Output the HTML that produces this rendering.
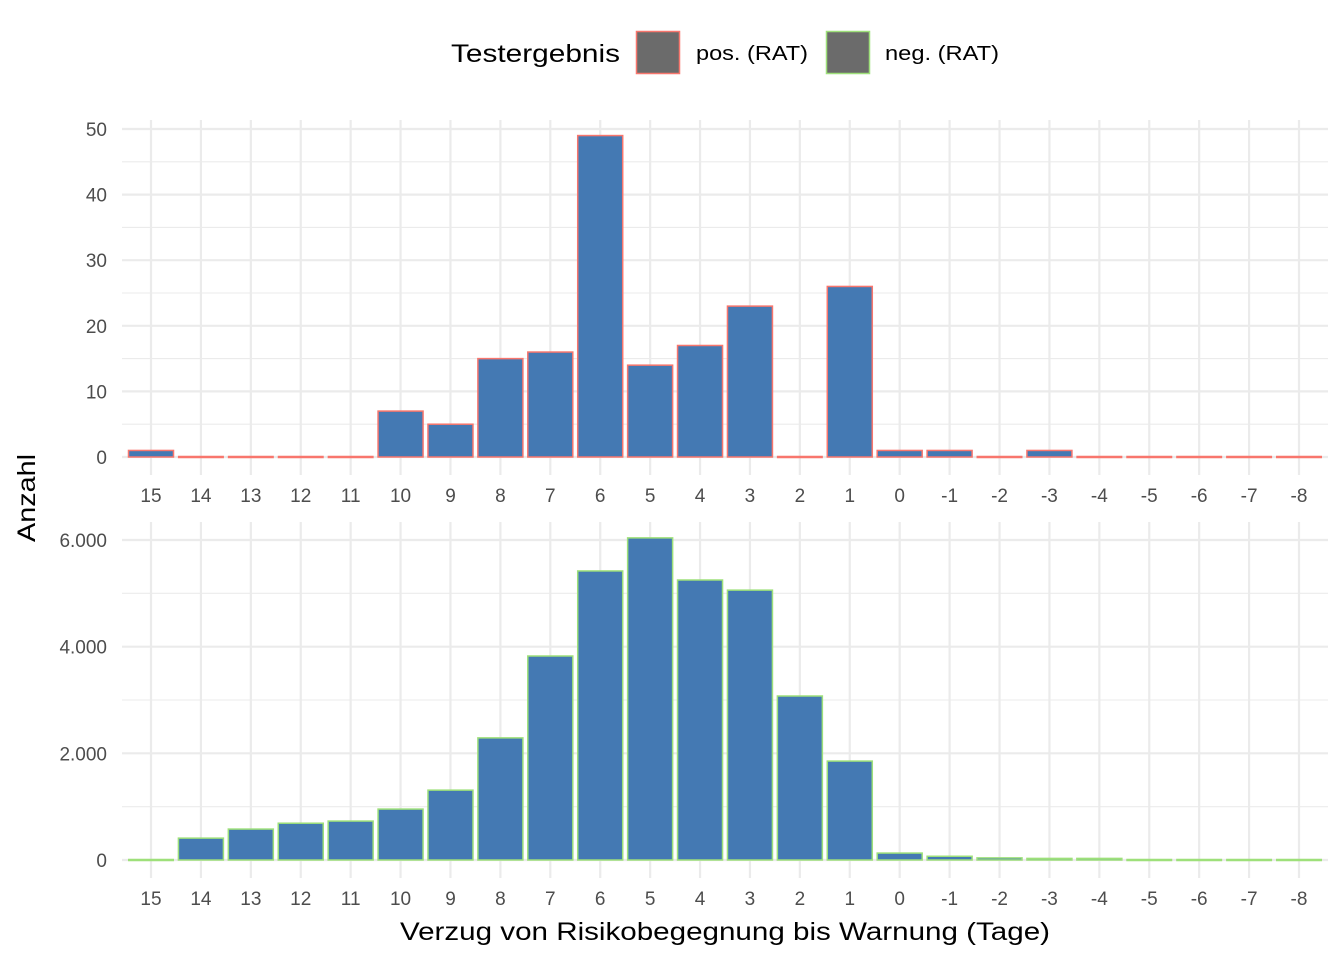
<!DOCTYPE html>
<html><head><meta charset="utf-8"><style>
body{margin:0;background:#fff}
svg{display:block;font-family:"Liberation Sans",Arial,sans-serif}
</style></head><body>
<svg id="chart" width="1344" height="960">
<g>
<text x="451" y="62" font-size="25" fill="#000" textLength="169" lengthAdjust="spacingAndGlyphs">Testergebnis</text>
<rect x="636.5" y="31.5" width="43" height="42" fill="#6b6b6b" stroke="#f8766d" stroke-width="1.5"/>
<text x="696" y="60" font-size="20" textLength="112" lengthAdjust="spacingAndGlyphs">pos. (RAT)</text>
<rect x="826.5" y="31.5" width="43" height="42" fill="#6b6b6b" stroke="#9ee07a" stroke-width="1.5"/>
<text x="885" y="60" font-size="20" textLength="114" lengthAdjust="spacingAndGlyphs">neg. (RAT)</text>
</g>
<text transform="translate(35,498) rotate(-90)" text-anchor="middle" font-size="25" textLength="88" lengthAdjust="spacingAndGlyphs">Anzahl</text>
<text x="400" y="940" font-size="25" textLength="650" lengthAdjust="spacingAndGlyphs">Verzug von Risikobegegnung bis Warnung (Tage)</text>
</svg>
<script>
const categories=["15","14","13","12","11","10","9","8","7","6","5","4","3","2","1","0","-1","-2","-3","-4","-5","-6","-7","-8"];
const posValues=[1,0,0,0,0,7,5,15,16,49,14,17,23,0,26,1,1,0,1,0,0,0,0,0];
const negValues=[10,410,580,690,730,955,1310,2290,3825,5420,6040,5250,5060,3075,1855,130,70,40,30,30,20,15,10,10];
const posTicks=[0,10,20,30,40,50];
const posTickLabels=["0","10","20","30","40","50"];
const negTicks=[0,2000,4000,6000];
const negTickLabels=["0","2.000","4.000","6.000"];
const NS="http://www.w3.org/2000/svg";
const svg=document.getElementById('chart');
function mk(t,a,p){const e=document.createElementNS(NS,t);for(const k in a)e.setAttribute(k,a[k]);(p||svg).appendChild(e);return e;}
const xPos=i=>151+i*49.913;
function panel(name,vals,ticks,labels,y0,scale,top,bottom,stroke,tickY){
  const g=mk('g',{});
  
  
  const y=v=>y0-v*scale;
  const step=ticks[1]-ticks[0];
  for(let k=0;k<ticks.length;k++){const v=ticks[k]+step/2;const yy=y(v);if(yy>top)mk('line',{x1:122,x2:1328,y1:yy,y2:yy,stroke:'#ebebeb','stroke-width':1.1},g);}
  ticks.forEach((v,k)=>{mk('line',{x1:122,x2:1328,y1:y(v),y2:y(v),stroke:'#ebebeb','stroke-width':2.2},g);
    const t=mk('text',{x:107,y:y(v)+7,'text-anchor':'end','font-size':19,fill:'#4d4d4d'},g);t.textContent=labels[k];
    
    });
  categories.forEach((c,i)=>{mk('line',{x1:xPos(i),x2:xPos(i),y1:top,y2:bottom,stroke:'#ebebeb','stroke-width':2.2},g);
    const t=mk('text',{x:xPos(i),y:tickY,'text-anchor':'middle','font-size':19,fill:'#4d4d4d'},g);t.textContent=c;
    
    });
  vals.forEach((v,i)=>{const h=v*scale;
    let r;
    if(h<1.5){r=mk('line',{x1:xPos(i)-23,x2:xPos(i)+23,y1:y0,y2:y0,stroke:stroke,'stroke-width':2.5},g);}
    else r=mk('rect',{x:xPos(i)-22.5,y:y(v),width:45,height:h,fill:'#4479b3',stroke:stroke,'stroke-width':1.5},g);
    
    });
}
panel('pos',posValues,posTicks,posTickLabels,457,6.56,120,475,'#f8766d',502);
panel('neg',negValues,negTicks,negTickLabels,860,320/6000,522,878,'#9ee07a',905);
</script>
</body></html>
